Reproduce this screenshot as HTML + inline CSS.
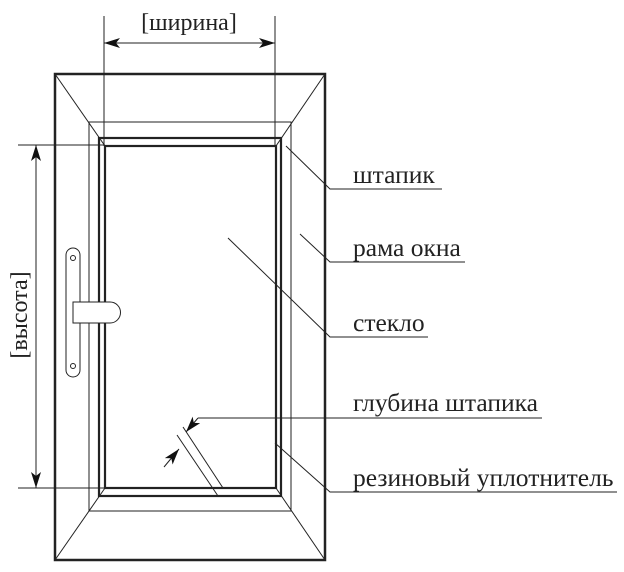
<!DOCTYPE html>
<html><head><meta charset="utf-8"><style>body{margin:0;background:#fff}svg{display:block}text{font-family:"Liberation Serif",serif;fill:#222}</style></head><body>
<svg width="624" height="572" viewBox="0 0 624 572" xmlns="http://www.w3.org/2000/svg">
<defs><marker id="a" viewBox="0 0 16 10" refX="16" refY="5" markerWidth="16" markerHeight="10" markerUnits="userSpaceOnUse" orient="auto-start-reverse"><path d="M0,0 L16,5 L0,10 L4,5 Z" fill="#111"/></marker></defs>
<g stroke="#222" fill="none">
<rect x="55" y="74" width="270" height="486" stroke-width="2.5"/>
<rect x="89" y="122" width="202" height="389" stroke-width="1"/>
<rect x="99" y="138" width="182" height="358" stroke-width="2.2"/>
<rect x="105" y="146" width="171" height="342" stroke-width="2.2"/>
<g stroke-width="1">
<line x1="55" y1="74" x2="105" y2="146"/><line x1="325" y1="74" x2="276" y2="146"/>
<line x1="55" y1="560" x2="105" y2="488"/><line x1="325" y1="560" x2="276" y2="488"/>
<line x1="104" y1="16" x2="104" y2="146"/><line x1="275" y1="16" x2="275" y2="146"/>
<line x1="104" y1="43" x2="275" y2="43" marker-start="url(#a)" marker-end="url(#a)"/>
<line x1="18" y1="145" x2="105" y2="145"/><line x1="18" y1="488" x2="105" y2="488"/>
<line x1="36" y1="145" x2="36" y2="488" marker-start="url(#a)" marker-end="url(#a)"/>
<rect x="66" y="248" width="14" height="129" rx="7"/>
<circle cx="73" cy="258" r="2.5"/><circle cx="73" cy="366" r="2.5"/>
<path d="M73,302 H110 A10.5,10.5 0 0 1 110,323 H73 Z" fill="#fff"/>
<line x1="183" y1="427" x2="223" y2="488"/><line x1="177" y1="435" x2="218" y2="496"/>
<line x1="198" y1="418" x2="186" y2="432" marker-end="url(#a)"/>
<line x1="164" y1="467" x2="179" y2="449" marker-end="url(#a)"/>
<line x1="198" y1="418" x2="542" y2="418"/>
<polyline points="286,146 330,189 442,189"/>
<polyline points="300,234 330,262 465,262"/>
<polyline points="228,238 330,337 428,337"/>
<polyline points="275,443 330,492 617,492"/>
</g></g>
<text x="189" y="30" font-size="24" text-anchor="middle">[ширина]</text>
<text transform="translate(27,315) rotate(-90)" font-size="24" text-anchor="middle">[высота]</text>
<text x="353" y="183" font-size="25.5">штапик</text>
<text x="353" y="256" font-size="25.5">рама окна</text>
<text x="353" y="331" font-size="25.5">стекло</text>
<text x="353" y="411" font-size="25.5">глубина штапика</text>
<text x="353" y="486" font-size="25.5">резиновый уплотнитель</text>
</svg></body></html>
